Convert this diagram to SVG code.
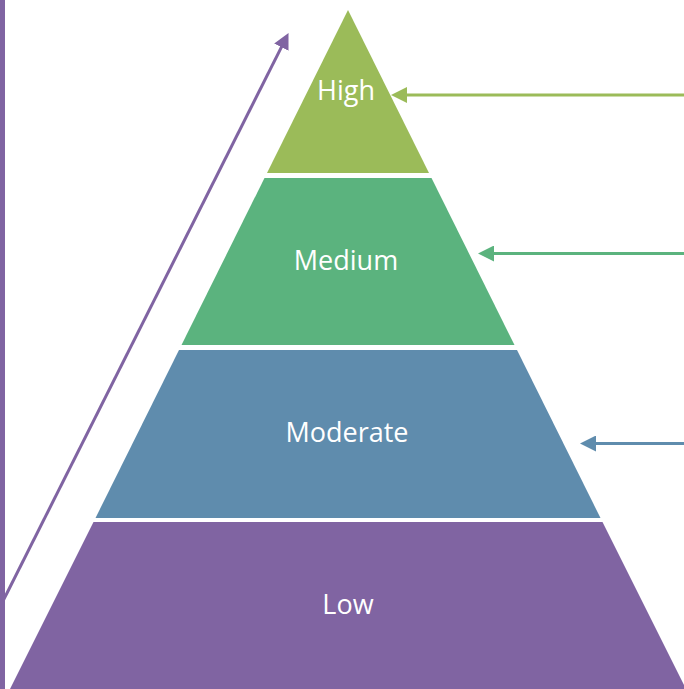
<svg xmlns="http://www.w3.org/2000/svg" width="684" height="689" viewBox="0 0 684 689">
  <style>
    .lbl { font-family: "Open Sans", "Liberation Sans", sans-serif; font-size: 27px; fill: #ffffff; text-anchor: middle; }
    .conn { fill: none; stroke-width: 3; }
  </style>
  <defs>
    <marker id="hOlive" viewBox="0 -8 16 16" markerWidth="16" markerHeight="16" refX="1" refY="0" markerUnits="userSpaceOnUse" orient="auto">
      <path d="M0,-8 L16,0 L0,8 z" fill="#9BBB59"/>
    </marker>
    <marker id="hGreen" viewBox="0 -8 16 16" markerWidth="16" markerHeight="16" refX="1" refY="0" markerUnits="userSpaceOnUse" orient="auto">
      <path d="M0,-8 L16,0 L0,8 z" fill="#5BB37E"/>
    </marker>
    <marker id="hBlue" viewBox="0 -8 16 16" markerWidth="16" markerHeight="16" refX="1" refY="0" markerUnits="userSpaceOnUse" orient="auto">
      <path d="M0,-8 L16,0 L0,8 z" fill="#5F8CAD"/>
    </marker>
    <marker id="hPurple" viewBox="0 -8 16 16" markerWidth="16" markerHeight="16" refX="1" refY="0" markerUnits="userSpaceOnUse" orient="auto">
      <path d="M0,-8 L16,0 L0,8 z" fill="#8064A2"/>
    </marker>
  </defs>
  <rect width="684" height="689" fill="#ffffff"/>
  <rect x="0" y="0" width="5" height="689" fill="#8064A2"/>

  <g id="tier-high">
    <polygon points="348,10 429,173 267,173" fill="#9BBB59"/>
    <text class="lbl" x="346" y="99.5">High</text>
  </g>
  <g id="tier-medium">
    <polygon points="264.5,178 431.5,178 514.5,345 181.5,345" fill="#5BB37E"/>
    <text class="lbl" x="346" y="270">Medium</text>
  </g>
  <g id="tier-moderate">
    <polygon points="179,350 517,350 600.5,518 95.5,518" fill="#5F8CAD"/>
    <text class="lbl" x="347" y="441.5">Moderate</text>
  </g>
  <g id="tier-low">
    <polygon points="93.5,522 602.5,522 686,689 10,689" fill="#8064A2"/>
    <text class="lbl" x="348" y="614">Low</text>
  </g>

  <g id="connectors">
    <path class="conn" d="M684,95 L406,95" stroke="#9BBB59" marker-end="url(#hOlive)"/>
    <path class="conn" d="M684,253.5 L493,253.5" stroke="#5BB37E" marker-end="url(#hGreen)"/>
    <path class="conn" d="M684,443.5 L595,443.5" stroke="#5F8CAD" marker-end="url(#hBlue)"/>
    <path class="conn" d="M3,601 L281.8,46.3" stroke="#8064A2" marker-end="url(#hPurple)"/>
  </g>
</svg>
